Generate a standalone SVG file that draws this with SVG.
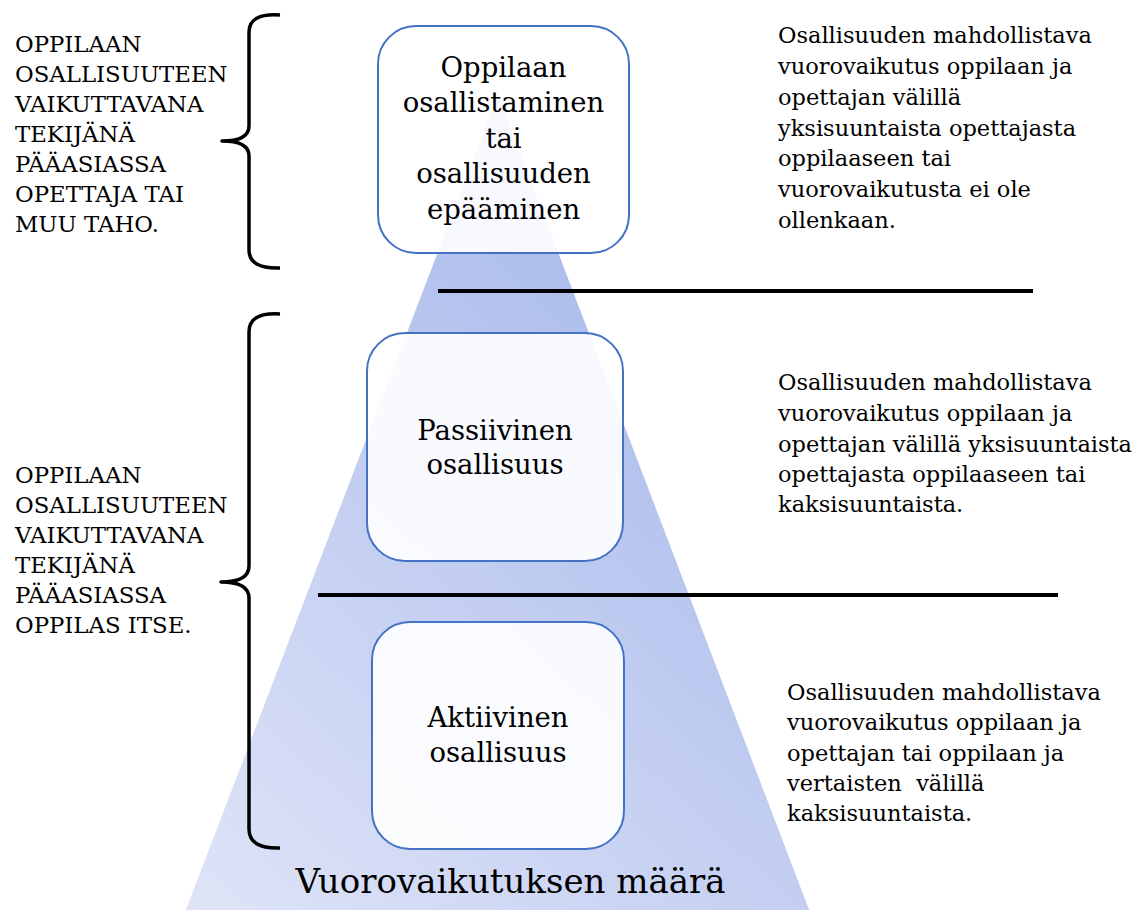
<svg xmlns="http://www.w3.org/2000/svg" width="1134" height="910" viewBox="0 0 1134 910">
<defs>
<linearGradient id="triGrad" gradientUnits="userSpaceOnUse" x1="186" y1="910" x2="720" y2="320">
<stop offset="0" stop-color="#dfe4f7"/>
<stop offset="1" stop-color="#aabbec"/>
</linearGradient>
<style>
.box{fill:#ffffff;fill-opacity:0.9;stroke:#4472c4;stroke-width:2}
.boxtxt{font-family:"DejaVu Serif","Liberation Serif",serif;font-size:27.5px;fill:#000;text-anchor:middle}
.side{font-family:"DejaVu Serif","Liberation Serif",serif;font-size:22.5px;fill:#000}
.caps{font-family:"DejaVu Serif","Liberation Serif",serif;font-size:22.8px;fill:#000}
.brace{fill:none;stroke:#000;stroke-width:3.5;stroke-linejoin:round;stroke-linecap:butt}
.rule{stroke:#000;stroke-width:4}
.axis{font-family:"DejaVu Serif","Liberation Serif",serif;font-size:34px;fill:#000;text-anchor:middle}
</style>
</defs>
<rect width="1134" height="910" fill="#ffffff"/>
<polygon id="triangle" points="498,95 182,920 813,920" fill="url(#triGrad)"/>
<g id="connectors">
<line class="rule" x1="438" y1="291" x2="1033" y2="291"/>
<line class="rule" x1="318" y1="595" x2="1058" y2="595"/>
<path class="brace" d="M280,15 Q249,13 249,32 L249,126 Q249,141 222,141 Q249,141 249,156 L249,250 Q249,269 280,268"/>
<path class="brace" d="M280,314 Q249,312 249,332 L249,566 Q249,582 221,582 Q249,582 249,598 L249,829 Q249,849 280,848"/>
</g>
<g id="node-top">
<rect class="box" x="378" y="26" width="251" height="227" rx="38" ry="38"/>
<text class="boxtxt" x="503.5" y="77">Oppilaan</text>
<text class="boxtxt" x="503.5" y="112">osallistaminen</text>
<text class="boxtxt" x="503.5" y="148">tai</text>
<text class="boxtxt" x="503.5" y="183">osallisuuden</text>
<text class="boxtxt" x="503.5" y="219">epääminen</text>
</g>
<g id="node-passive">
<rect class="box" x="367" y="333" width="256" height="228" rx="38" ry="38"/>
<text class="boxtxt" x="495" y="440">Passiivinen</text>
<text class="boxtxt" x="495" y="474">osallisuus</text>
</g>
<g id="node-active">
<rect class="box" x="372" y="622" width="252" height="227" rx="38" ry="38"/>
<text class="boxtxt" x="498" y="727">Aktiivinen</text>
<text class="boxtxt" x="498" y="762">osallisuus</text>
</g>
<g id="label-left-top">
<text class="caps" x="15" y="52">OPPILAAN</text>
<text class="caps" x="15" y="82">OSALLISUUTEEN</text>
<text class="caps" x="15" y="112">VAIKUTTAVANA</text>
<text class="caps" x="15" y="142">TEKIJÄNÄ</text>
<text class="caps" x="15" y="172">PÄÄASIASSA</text>
<text class="caps" x="15" y="202">OPETTAJA TAI</text>
<text class="caps" x="15" y="232">MUU TAHO.</text>
</g>
<g id="label-left-bottom">
<text class="caps" x="15" y="483">OPPILAAN</text>
<text class="caps" x="15" y="513">OSALLISUUTEEN</text>
<text class="caps" x="15" y="543">VAIKUTTAVANA</text>
<text class="caps" x="15" y="573">TEKIJÄNÄ</text>
<text class="caps" x="15" y="603">PÄÄASIASSA</text>
<text class="caps" x="15" y="633">OPPILAS ITSE.</text>
</g>
<g id="label-right-top">
<text class="side" x="778" y="43">Osallisuuden mahdollistava</text>
<text class="side" x="778" y="74">vuorovaikutus oppilaan ja</text>
<text class="side" x="778" y="105">opettajan välillä</text>
<text class="side" x="778" y="136">yksisuuntaista opettajasta</text>
<text class="side" x="778" y="166">oppilaaseen tai</text>
<text class="side" x="778" y="197">vuorovaikutusta ei ole</text>
<text class="side" x="778" y="228">ollenkaan.</text>
</g>
<g id="label-right-middle">
<text class="side" x="778" y="390">Osallisuuden mahdollistava</text>
<text class="side" x="778" y="421">vuorovaikutus oppilaan ja</text>
<text class="side" x="778" y="452">opettajan välillä yksisuuntaista</text>
<text class="side" x="778" y="482">opettajasta oppilaaseen tai</text>
<text class="side" x="778" y="512">kaksisuuntaista.</text>
</g>
<g id="label-right-bottom">
<text class="side" x="787" y="700">Osallisuuden mahdollistava</text>
<text class="side" x="787" y="730">vuorovaikutus oppilaan ja</text>
<text class="side" x="787" y="761">opettajan tai oppilaan ja</text>
<text class="side" x="787" y="791" xml:space="preserve">vertaisten  välillä</text>
<text class="side" x="787" y="821">kaksisuuntaista.</text>
</g>
<g id="axis-label">
<text class="axis" x="510.5" y="893">Vuorovaikutuksen määrä</text>
</g>
</svg>
